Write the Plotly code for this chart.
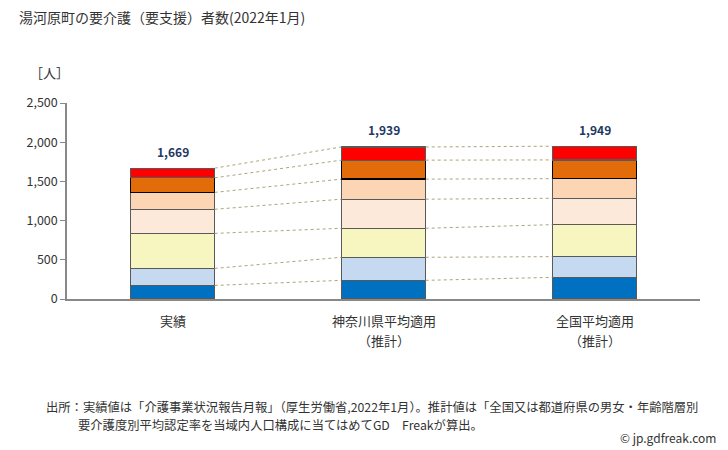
import plotly.graph_objects as go

categories = ["実績", "神奈川県平均適用", "全国平均適用"]
sublabels = ["", "（推計）", "（推計）"]
levels = ["要支援1", "要支援2", "要介護1", "要介護2", "要介護3", "要介護4", "要介護5"]
values = {
    "要支援1": [173, 238, 276],
    "要支援2": [217, 294, 264],
    "要介護1": [447, 370, 408],
    "要介護2": [307, 371, 337],
    "要介護3": [216, 256, 250],
    "要介護4": [186, 242, 239],
    "要介護5": [123, 168, 175],
}
totals = [1669, 1939, 1949]
y_ticks = [0, 500, 1000, 1500, 2000, 2500]

colors = ["#0070C0", "#C5D9F1", "#F7F5C0", "#FDE9D9", "#FCD5B4", "#E26B0A", "#FF0000"]
edge = ["#595959", "#595959", "#595959", "#595959", "#595959", "#000000", "#595959"]

FONT = "Noto Sans CJK JP"
BW = 0.4
xs = list(range(len(categories)))
PW, PH = 633, 196  # plot size in px


def px(x):
    return (x - 67) / PW


def py(y):
    return (299 - y) / PH


fig = go.Figure()

cum = [0] * len(categories)
cums = []
for lv in levels:
    cum = [c + v for c, v in zip(cum, values[lv])]
    cums.append(cum)
for c in cums:
    for i in range(len(categories) - 1):
        fig.add_trace(go.Scatter(
            x=[i + BW / 2, i + 1 - BW / 2], y=[c[i], c[i + 1]],
            mode="lines", line=dict(color="#ADA47A", width=1, dash="dot"),
            showlegend=False, hoverinfo="skip"))

for lv, col, ec in zip(levels, colors, edge):
    fig.add_trace(go.Bar(
        x=xs, y=values[lv], name=lv, width=BW,
        marker=dict(color=col, line=dict(color=ec, width=1.3)),
        showlegend=False))

for i, t in enumerate(totals):
    fig.add_annotation(x=i, y=t, text=f"<b>{t:,}</b>", showarrow=False,
                       yshift=17, font=dict(family=FONT, size=12, color="#1F3864"))

for i, (cat, sub) in enumerate(zip(categories, sublabels)):
    fig.add_annotation(x=i, xref="x", yref="paper", y=py(320), text=cat,
                       showarrow=False, yanchor="middle",
                       font=dict(family=FONT, size=13, color="#333333"))
    if sub:
        fig.add_annotation(x=i, xref="x", yref="paper", y=py(340), text=sub,
                           showarrow=False, yanchor="middle",
                           font=dict(family=FONT, size=13, color="#333333"))

fig.update_layout(
    barmode="stack",
    width=728, height=450,
    margin=dict(l=59, r=36, t=95, b=159),
    paper_bgcolor="white", plot_bgcolor="white",
    font=dict(family=FONT, color="#333333"),
    xaxis=dict(range=[-0.5, 2.5], tickvals=xs, showticklabels=False,
               showline=True, linecolor="#888888", linewidth=1.5,
               showgrid=False, zeroline=False, ticks=""),
    yaxis=dict(range=[0, 2500], tickvals=y_ticks,
               tickformat=",", showline=True, linecolor="#888888", linewidth=1.5,
               showgrid=False, zeroline=False, ticks="outside", ticklen=5,
               tickcolor="#888888",
               tickfont=dict(family=FONT, size=12.5, color="#333333")),
)

fig.add_annotation(xref="paper", yref="paper", x=px(17), y=py(17),
                   xanchor="left", yanchor="middle", showarrow=False,
                   text="湯河原町の要介護（要支援）者数(2022年1月)",
                   font=dict(family=FONT, size=14, color="#333333"))
fig.add_annotation(xref="paper", yref="paper", x=px(28), y=py(73),
                   xanchor="left", yanchor="middle", showarrow=False,
                   text="［人］", font=dict(family=FONT, size=13, color="#333333"))
fig.add_annotation(xref="paper", yref="paper", x=px(44), y=py(407),
                   xanchor="left", yanchor="middle", showarrow=False,
                   text="出所：実績値は「介護事業状況報告月報」（厚生労働省,2022年1月）。推計値は「全国又は都道府県の男女・年齢階層別",
                   font=dict(family=FONT, size=12.3, color="#333333"))
fig.add_annotation(xref="paper", yref="paper", x=px(76), y=py(425),
                   xanchor="left", yanchor="middle", showarrow=False,
                   text="要介護度別平均認定率を当域内人口構成に当てはめてGD　Freakが算出。",
                   font=dict(family=FONT, size=12.3, color="#333333"))
fig.add_annotation(xref="paper", yref="paper", x=px(718), y=py(437),
                   xanchor="right", yanchor="middle", showarrow=False,
                   text="© jp.gdfreak.com",
                   font=dict(family=FONT, size=12, color="#333333"))

fig.write_html("out.html")
